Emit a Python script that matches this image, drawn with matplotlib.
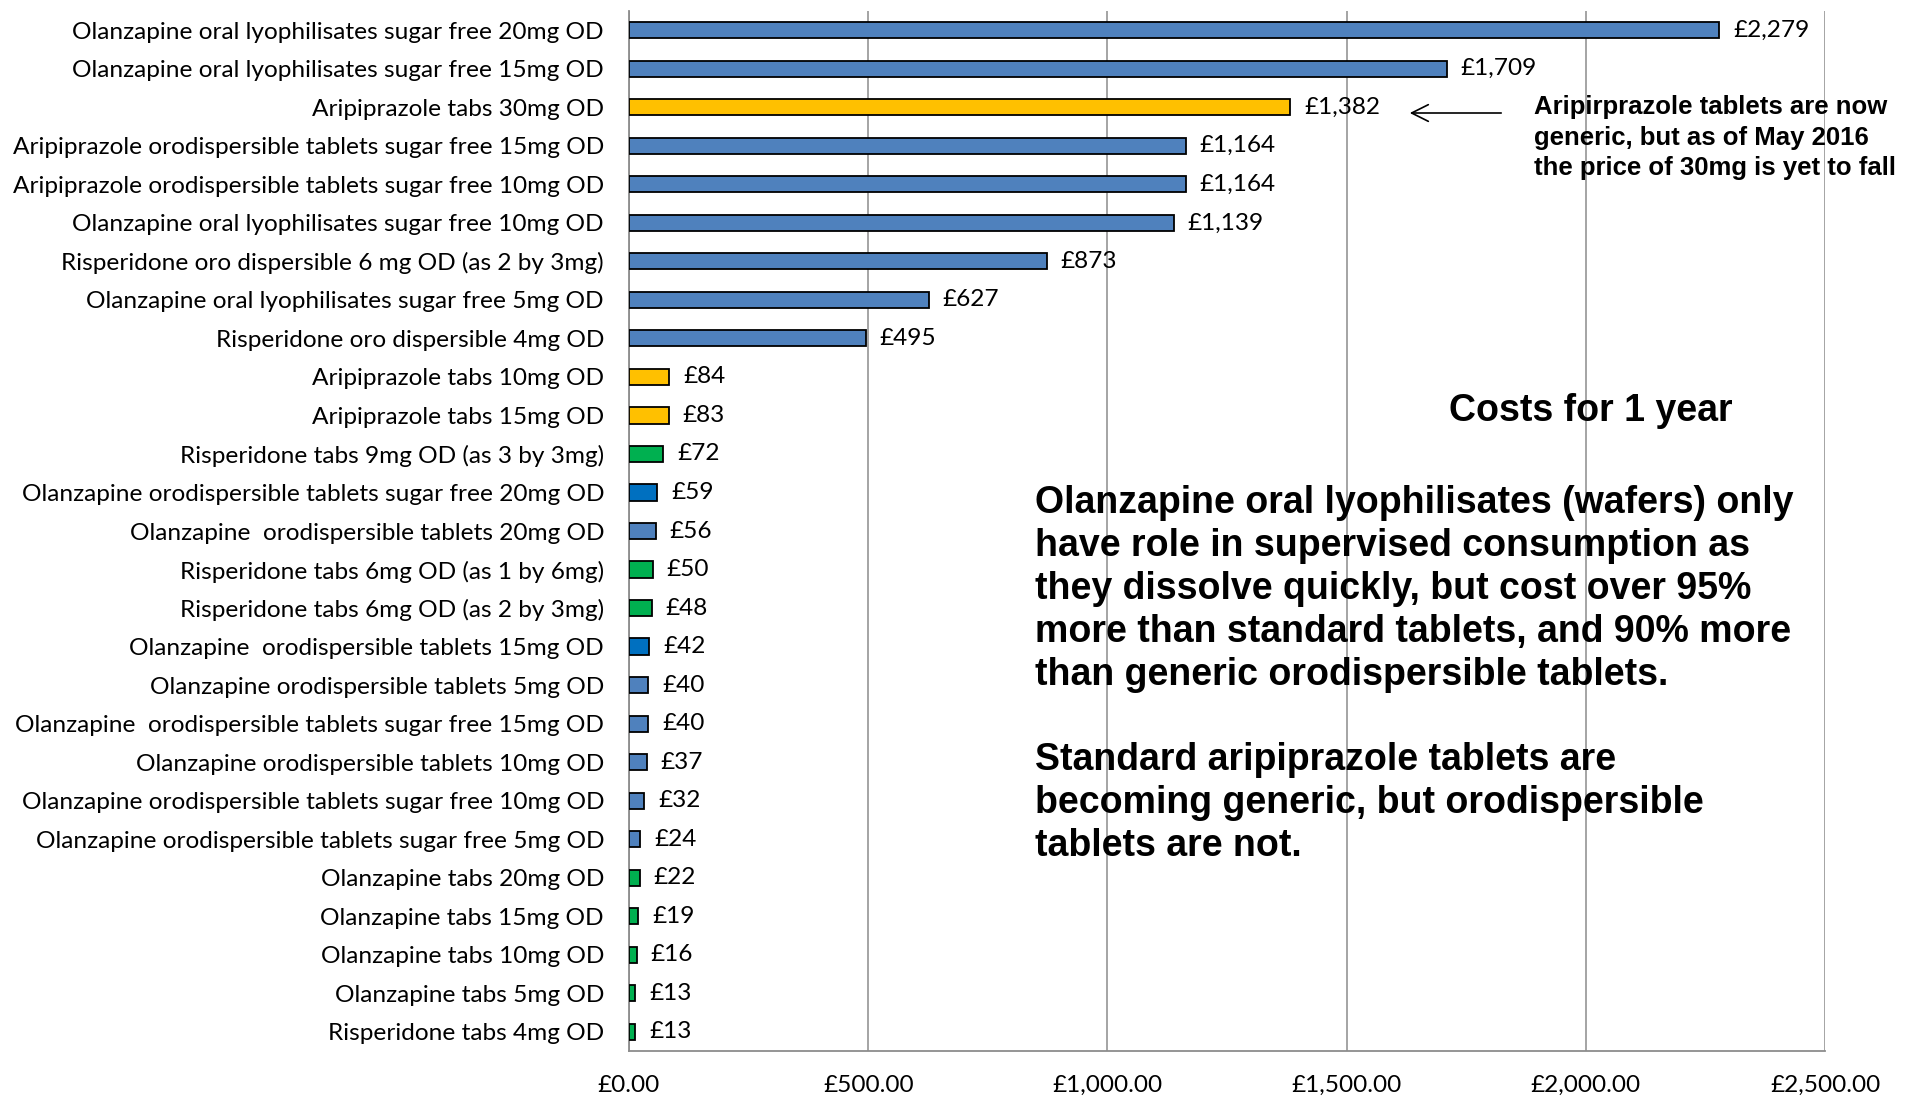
import matplotlib
matplotlib.use("Agg")
import matplotlib.pyplot as plt
from matplotlib import font_manager
import numpy as np

categories = [
    "Olanzapine oral lyophilisates sugar free 20mg OD",
    "Olanzapine oral lyophilisates sugar free 15mg OD",
    "Aripiprazole tabs 30mg OD",
    "Aripiprazole orodispersible tablets sugar free 15mg OD",
    "Aripiprazole orodispersible tablets sugar free 10mg OD",
    "Olanzapine oral lyophilisates sugar free 10mg OD",
    "Risperidone oro dispersible 6 mg OD (as 2 by 3mg)",
    "Olanzapine oral lyophilisates sugar free 5mg OD",
    "Risperidone oro dispersible 4mg OD",
    "Aripiprazole tabs 10mg OD",
    "Aripiprazole tabs 15mg OD",
    "Risperidone tabs 9mg OD (as 3 by 3mg)",
    "Olanzapine orodispersible tablets sugar free 20mg OD",
    "Olanzapine  orodispersible tablets 20mg OD",
    "Risperidone tabs 6mg OD (as 1 by 6mg)",
    "Risperidone tabs 6mg OD (as 2 by 3mg)",
    "Olanzapine  orodispersible tablets 15mg OD",
    "Olanzapine orodispersible tablets 5mg OD",
    "Olanzapine  orodispersible tablets sugar free 15mg OD",
    "Olanzapine orodispersible tablets 10mg OD",
    "Olanzapine orodispersible tablets sugar free 10mg OD",
    "Olanzapine orodispersible tablets sugar free 5mg OD",
    "Olanzapine tabs 20mg OD",
    "Olanzapine tabs 15mg OD",
    "Olanzapine tabs 10mg OD",
    "Olanzapine tabs 5mg OD",
    "Risperidone tabs 4mg OD",
]

annual_cost = [2279, 1709, 1382, 1164, 1164, 1139, 873, 627, 495, 84, 83, 72,
               59, 56, 50, 48, 42, 40, 40, 37, 32, 24, 22, 19, 16, 13, 13]

groups = ["blue", "blue", "gold", "blue", "blue", "blue", "blue", "blue", "blue",
          "gold", "gold", "green", "darkblue", "blue", "green", "green",
          "darkblue", "blue", "blue", "blue", "blue", "blue",
          "green", "green", "green", "green", "green"]

x_ticks = [0, 500, 1000, 1500, 2000, 2500]
x_ticklabels = ["£0.00", "£500.00", "£1,000.00", "£1,500.00", "£2,000.00", "£2,500.00"]

group_colors = {"blue": "#4F81BD", "gold": "#FFC000", "green": "#00B050",
                "darkblue": "#0070C0"}

available = {f.name for f in font_manager.fontManager.ttflist}
label_font = "Lato" if "Lato" in available else "DejaVu Sans"
bold_font = "Liberation Sans"
LABEL_SIZE = 17.6

W, H = 1912, 1097
fig = plt.figure(figsize=(W / 100, H / 100), dpi=100)
ax = fig.add_axes([629 / W, 1 - 1051 / H, (1825 - 629) / W, (1051 - 11) / H])

y = np.arange(len(categories))
colors = [group_colors[g] for g in groups]
ax.barh(y, annual_cost, height=0.42, color=colors, edgecolor="black",
        linewidth=1.3, zorder=3)

for yi, v in zip(y, annual_cost):
    ax.annotate(f"£{v:,}", xy=(v, yi), xytext=(10, 0), textcoords="offset points",
                va="center", ha="left", fontsize=LABEL_SIZE, family=label_font)

ax.set_xlim(0, 2500)
ax.set_ylim(len(categories) - 0.5, -0.5)
ax.set_yticks(y)
ax.set_yticklabels(categories, fontsize=LABEL_SIZE, family=label_font)
ax.set_xticks(x_ticks)
ax.set_xticklabels(x_ticklabels, fontsize=LABEL_SIZE, family=label_font)
ax.tick_params(axis="both", length=0)
ax.tick_params(axis="y", pad=18)
ax.tick_params(axis="x", pad=17)

ax.grid(axis="x", color="#8C8C8C", linewidth=1.1, zorder=0)
for side in ["top", "right"]:
    ax.spines[side].set_visible(False)
for side in ["left", "bottom"]:
    ax.spines[side].set_color("#8C8C8C")
    ax.spines[side].set_linewidth(1.3)


def fp(px, py):
    return px / W, 1 - py / H


# Arrow to the 30mg aripiprazole bar
ax.annotate("", xy=fp(1407, 113), xycoords="figure fraction",
            xytext=fp(1504, 113), textcoords="figure fraction",
            arrowprops=dict(arrowstyle="->", color="black", lw=1.2,
                            mutation_scale=30))

# multi-line text with va="baseline" is anchored at its last line's baseline
fig.text(*fp(1534, 175),
         "Aripirprazole tablets are now\ngeneric, but as of May 2016\nthe price of 30mg is yet to fall",
         fontsize=18.5, fontweight="bold", family=bold_font,
         ha="left", va="baseline", linespacing=1.34)

fig.text(*fp(1591, 421), "Costs for 1 year", fontsize=27,
         fontweight="bold", family=bold_font, ha="center", va="baseline")

para = ("Olanzapine oral lyophilisates (wafers) only\n"
        "have role in supervised consumption as\n"
        "they dissolve quickly, but cost over 95%\n"
        "more than standard tablets, and 90% more\n"
        "than generic orodispersible tablets.\n"
        "\n"
        "Standard aripiprazole tablets are\n"
        "becoming generic, but orodispersible\n"
        "tablets are not.")
fig.text(*fp(1035, 856), para, fontsize=27,
         fontweight="bold", family=bold_font, ha="left", va="baseline",
         linespacing=1.245)

fig.savefig("out.png", dpi=100)
